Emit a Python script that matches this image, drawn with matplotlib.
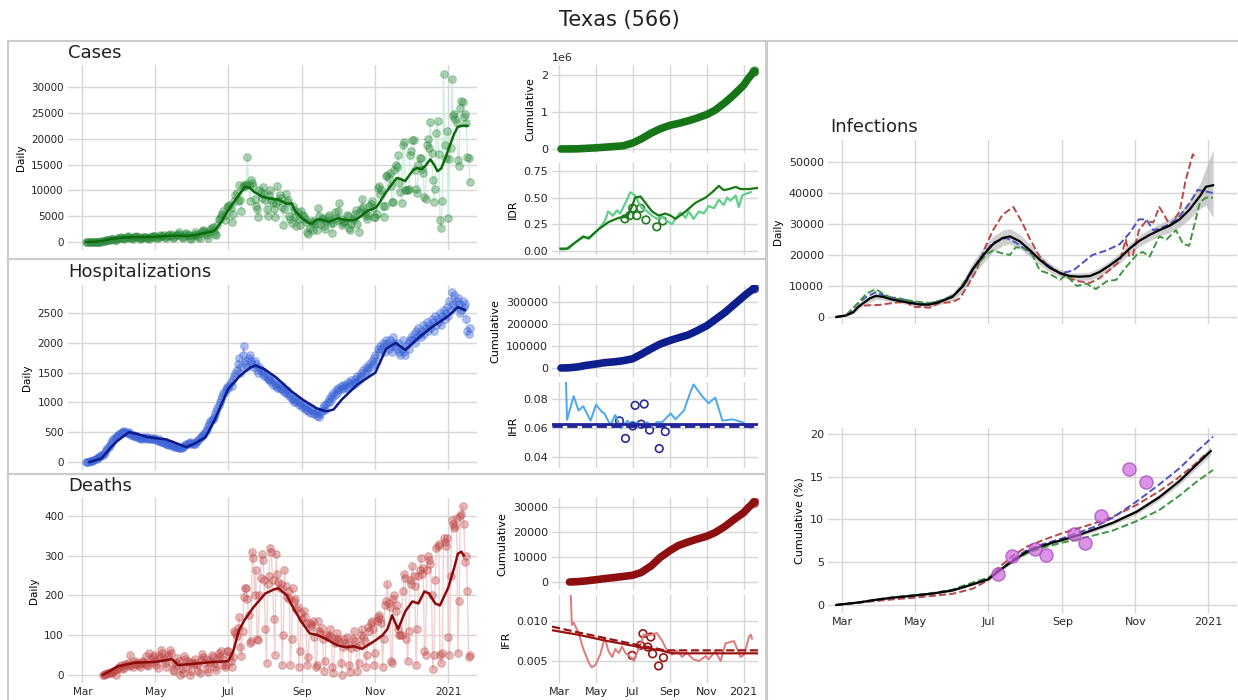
import numpy as np
import pandas as pd
import matplotlib
matplotlib.use("Agg")
import matplotlib.pyplot as plt
import matplotlib.dates as mdates
from matplotlib.patches import Rectangle
from matplotlib.ticker import FuncFormatter, FormatStrFormatter

# ---------------------------------------------------------------------------
# Data
# day offsets are counted from 2020-03-01
# ---------------------------------------------------------------------------
BASE = "2020-03-01"

# daily reported cases, one value per day from 2020-03-04 (rows = weeks)
cases_daily = [
    0, 2, 3, 5, 8, 10, 15,
    20, 30, 40, 55, 60, 80, 100,
    150, 180, 250, 300, 330, 350, 450,
    520, 600, 550, 480, 450, 650, 700,
    800, 900, 750, 700, 600, 850, 950,
    1100, 900, 800, 700, 650, 900, 1000,
    1200, 1000, 900, 600, 700, 800, 950,
    1000, 900, 800, 700, 600, 900, 1100,
    1000, 1200, 1100, 800, 700, 1000, 1300,
    1100, 1200, 1300, 900, 800, 1100, 1300,
    1500, 1200, 1400, 800, 900, 1300, 1400,
    1600, 1900, 1300, 1000, 800, 1200, 1500,
    1700, 1300, 1400, 800, 600, 1100, 1400,
    1900, 1500, 1300, 900, 700, 1700, 2100,
    2300, 2100, 1800, 1400, 800, 1900, 2600,
    2700, 2900, 2100, 1600, 1300, 3200, 4400,
    4400, 5000, 5500, 6000, 4300, 5200, 6700,
    6900, 7100, 6600, 3800, 5500, 7900, 9000,
    9500, 8000, 11000, 8200, 6000, 10600, 11100,
    10900, 11200, 16500, 11000, 8000, 12000, 11500,
    10800, 8400, 6900, 6300, 4800, 10000, 9700,
    8500, 10700, 9300, 8200, 6300, 5100, 9000,
    10100, 8200, 7600, 6400, 4900, 7600, 10800,
    8000, 9000, 8500, 6700, 3200, 6400, 9200,
    7800, 8200, 5100, 4500, 3600, 7000, 6100,
    4800, 3000, 5900, 4500, 3300, 6000, 5200,
    5000, 4400, 3900, 2000, 1600, 2700, 4000,
    3600, 2400, 4100, 3600, 2300, 6600, 5000,
    3500, 4700, 4500, 3000, 2500, 4000, 4800,
    5200, 4300, 3600, 1800, 3700, 5800, 4600,
    4200, 6000, 7500, 4400, 3200, 3600, 3900,
    4000, 5300, 5100, 2700, 2400, 3500, 4200,
    4600, 5500, 6100, 3400, 2000, 5800, 6400,
    8400, 6700, 5900, 5100, 4400, 5300, 7000,
    7300, 7900, 6600, 4900, 4800, 5400, 10400,
    10800, 9300, 10000, 7000, 4900, 6900, 12800,
    13000, 12400, 13300, 10800, 7700, 7800, 13900,
    15000, 14500, 16800, 11500, 9700, 7600, 18800,
    19300, 10000, 10100, 10000, 10200, 16800, 17600,
    19700, 19800, 14000, 10200, 9500, 15000, 16200,
    16300, 14100, 13400, 8700, 8300, 18800, 19900,
    18200, 23300, 17300, 12000, 7800, 10300, 21100,
    23400, 17100, 4300, 2700, 8000, 32600, 18800,
    16200, 21500, 4600, 16100, 18200, 31500, 24300,
    24800, 23800, 23000, 15900, 14800, 26000, 27300,
    27100, 24200, 24700, 23100, 16400, 16300, 11700,
]
cases_smooth_days = [3, 10, 17, 24, 31, 38, 45, 52, 59, 66, 73, 80, 87, 94, 101,
                     108, 111, 115, 119, 122, 129, 136, 140, 143, 150, 157, 164,
                     171, 175, 178, 182, 185, 189, 192, 196, 199, 203, 206, 210,
                     214, 217, 221, 225, 228, 232, 235, 239, 243, 246, 249, 253,
                     256, 260, 263, 266, 270, 273, 277, 280, 284, 287, 291, 294,
                     297, 300, 304, 307, 311, 314, 318, 322]
cases_smooth = [10, 50, 200, 600, 800, 900, 950, 950, 1000, 1100, 1200, 1250,
                1200, 1300, 1700, 2000, 2300, 3500, 5000, 6200, 8500, 10700,
                10500, 9800, 8800, 8400, 8200, 7400, 7500, 6000, 5000, 4400,
                3700, 3600, 4300, 4400, 4100, 3900, 4300, 4600, 4400, 4200,
                4200, 4300, 4800, 5400, 6100, 6400, 6800, 7800, 9300, 10300,
                11500, 12400, 12200, 11800, 12800, 14000, 14300, 14100, 14800,
                16000, 15000, 13700, 14200, 16500, 18500, 21000, 22300, 22500,
                22500]
cases_cum_days = [3, 17, 31, 45, 61, 75, 92, 106, 122, 136, 153, 167, 184, 198,
                  214, 228, 245, 259, 275, 289, 306, 315, 324]
cases_cum = [0, 100, 4000, 16000, 30000, 46000, 66000, 85000, 160000, 270000,
             430000, 540000, 640000, 690000, 760000, 830000, 930000, 1050000,
             1250000, 1450000, 1720000, 1930000, 2100000]
idr_model_days = [2, 13, 27, 40, 49, 65, 82, 99, 113, 121, 126, 135, 143, 154,
                  165, 176, 185, 193, 210, 226, 243, 254, 265, 273, 282, 293,
                  301, 315, 329]
idr_model = [0.02, 0.02, 0.08, 0.13, 0.12, 0.20, 0.27, 0.31, 0.32, 0.42, 0.50,
             0.51, 0.45, 0.37, 0.33, 0.35, 0.33, 0.30, 0.37, 0.45, 0.50, 0.55,
             0.61, 0.57, 0.58, 0.60, 0.58, 0.58, 0.59]
idr_obs_days = [4, 16, 27, 40, 49, 65, 76, 81, 89, 96, 101, 110, 118, 126, 132,
                137, 146, 154, 162, 171, 179, 187, 193, 201, 210, 215, 223, 232,
                240, 248, 257, 265, 273, 279, 284, 293, 298, 304, 312, 318]
idr_obs = [0.01, 0.02, 0.08, 0.14, 0.11, 0.20, 0.28, 0.37, 0.33, 0.38, 0.35,
           0.45, 0.55, 0.52, 0.45, 0.40, 0.37, 0.33, 0.30, 0.32, 0.28, 0.25,
           0.30, 0.36, 0.31, 0.37, 0.30, 0.37, 0.35, 0.42, 0.40, 0.48, 0.43,
           0.50, 0.47, 0.52, 0.41, 0.52, 0.54, 0.55]
idr_sero_days = [109, 117, 122, 129, 135, 144, 162, 172]
idr_sero = [0.30, 0.33, 0.40, 0.33, 0.40, 0.29, 0.225, 0.28]

# hospitalizations, one value per day from 2020-03-04
hosp_daily = [
    0, 0, 5, 10, 15, 20, 30,
    40, 50, 60, 70, 80, 95, 110,
    120, 140, 170, 200, 230, 260, 290,
    320, 350, 380, 400, 420, 440, 460,
    470, 480, 500, 510, 520, 500, 490,
    480, 500, 470, 460, 440, 450, 430,
    420, 440, 410, 400, 390, 410, 420,
    400, 390, 420, 410, 380, 400, 390,
    380, 400, 390, 370, 360, 380, 350,
    340, 330, 320, 330, 310, 300, 290,
    290, 300, 280, 270, 260, 250, 260,
    250, 240, 230, 240, 260, 270, 290,
    300, 310, 320, 330, 310, 320, 300,
    310, 330, 350, 370, 400, 420, 440,
    450, 480, 520, 560, 600, 640, 680,
    700, 730, 760, 800, 850, 900, 950,
    1000, 1050, 1100, 1150, 1180, 1220, 1260,
    1250, 1300, 1350, 1280, 1400, 1450, 1500,
    1550, 1650, 1750, 1500, 1600, 1800, 1950,
    1650, 1700, 1600, 1750, 1800, 1700, 1650,
    1600, 1700, 1650, 1550, 1500, 1600, 1550,
    1520, 1480, 1450, 1500, 1420, 1400, 1380,
    1400, 1350, 1300, 1380, 1320, 1280, 1250,
    1300, 1250, 1220, 1280, 1200, 1180, 1150,
    1200, 1150, 1100, 1130, 1060, 1050, 1000,
    1050, 1000, 1020, 950, 1000, 980, 920,
    950, 900, 880, 930, 850, 820, 900,
    880, 830, 800, 850, 780, 820, 760,
    800, 850, 900, 950, 870, 980, 1000,
    1050, 1000, 1100, 1080, 1150, 1120, 1200,
    1150, 1250, 1200, 1280, 1230, 1300, 1250,
    1300, 1250, 1350, 1280, 1320, 1380, 1300,
    1350, 1400, 1320, 1450, 1380, 1420, 1500,
    1450, 1550, 1500, 1600, 1520, 1580, 1650,
    1600, 1700, 1650, 1750, 1800, 1700, 1900,
    1850, 1950, 1900, 2000, 1950, 1850, 2050,
    2000, 1900, 2050, 1950, 1850, 2100, 2000,
    1950, 1900, 2000, 1850, 1800, 1900, 2050,
    1850, 1800, 1950, 2000, 1900, 2050, 2100,
    2050, 2150, 2000, 2200, 2100, 2250, 2150,
    2100, 2200, 2300, 2150, 2250, 2350, 2200,
    2300, 2250, 2400, 2350, 2200, 2450, 2300,
    2400, 2350, 2500, 2300, 2450, 2550, 2400,
    2500, 2600, 2450, 2700, 2550, 2850, 2650,
    2800, 2600, 2700, 2750, 2650, 2500, 2550,
    2700, 2600, 2650, 2400, 2200, 2150, 2250,
]
hosp_smooth_days = [6, 16, 24, 29, 39, 46, 54, 61, 70, 78, 87, 95, 103, 111, 122,
                    132, 140, 145, 152, 162, 174, 184, 196, 204, 210, 217, 230,
                    245, 254, 262, 270, 282, 292, 306, 314, 320]
hosp_smooth = [0, 60, 250, 350, 500, 470, 420, 400, 380, 320, 250, 320, 420, 720,
               1230, 1450, 1580, 1620, 1560, 1420, 1200, 1050, 900, 850, 880,
               1050, 1300, 1500, 1900, 2000, 1880, 2100, 2260, 2450, 2600, 2550]
hosp_cum_days = [3, 17, 31, 45, 61, 75, 92, 106, 122, 136, 153, 167, 184, 198,
                 214, 228, 245, 259, 275, 289, 306, 315, 324]
hosp_cum = [0, 1000, 5000, 12000, 18000, 24000, 28000, 33000, 42000, 62000,
            88000, 108000, 125000, 137000, 150000, 168000, 192000, 220000,
            252000, 285000, 325000, 345000, 362000]
ihr_obs_days = [11, 13, 24, 32, 40, 52, 61, 71, 75, 85, 93, 103, 113, 121, 129,
                137, 146, 154, 162, 171, 185, 193, 207, 218, 223, 237, 248, 259,
                271, 287, 304, 318]
ihr_obs = [0.095, 0.0656, 0.082, 0.072, 0.075, 0.065, 0.076, 0.071, 0.070,
           0.062, 0.069, 0.060, 0.065, 0.062, 0.064, 0.061, 0.064, 0.061,
           0.064, 0.064, 0.070, 0.066, 0.072, 0.085, 0.090, 0.082, 0.077,
           0.081, 0.065, 0.066, 0.064, 0.060]
ihr_model = 0.0624
ihr_prior = 0.0613
ihr_sero_days = [100, 110, 122, 126, 136, 141, 150, 166, 176]
ihr_sero = [0.0649, 0.0528, 0.0614, 0.0756, 0.0626, 0.0765, 0.0586, 0.0458, 0.0575]

# deaths, one value per day from 2020-03-18
deaths_daily = [
    0, 1, 2, 3, 5, 5, 6,
    8, 5, 10, 12, 0, 14, 18,
    20, 25, 15, 22, 18, 28, 25,
    30, 22, 50, 26, 20, 35, 27,
    33, 28, 25, 20, 30, 36, 32,
    28, 48, 25, 22, 55, 40, 30,
    45, 50, 35, 25, 18, 48, 42,
    62, 55, 40, 30, 20, 45, 50,
    62, 55, 30, 12, 10, 30, 42,
    25, 35, 0, 15, 5, 48, 40,
    20, 35, 30, 0, 10, 32, 28,
    40, 30, 25, 10, 5, 38, 52,
    45, 30, 40, 15, 8, 35, 30,
    50, 45, 30, 20, 12, 40, 55,
    48, 60, 40, 25, 20, 25, 60,
    60, 48, 35, 20, 45, 110, 105,
    98, 118, 145, 70, 48, 110, 195,
    220, 220, 190, 150, 80, 85, 310,
    295, 200, 265, 90, 88, 200, 245,
    305, 290, 240, 115, 30, 230, 250,
    320, 310, 240, 140, 50, 305, 255,
    235, 220, 230, 25, 100, 265, 225,
    195, 210, 190, 25, 90, 220, 185,
    190, 165, 170, 20, 60, 155, 140,
    160, 145, 130, 25, 45, 130, 125,
    120, 135, 95, 20, 25, 135, 110,
    105, 118, 90, 10, 35, 100, 95,
    100, 115, 95, 20, 5, 80, 90,
    105, 90, 85, 30, 0, 70, 90,
    80, 95, 75, 25, 8, 68, 90,
    110, 85, 70, 10, 30, 75, 100,
    115, 95, 85, 20, 50, 120, 110,
    130, 135, 115, 25, 55, 135, 145,
    150, 140, 130, 20, 90, 175, 185,
    230, 180, 170, 35, 30, 190, 200,
    160, 175, 115, 100, 100, 100, 210,
    255, 245, 90, 35, 110, 240, 230,
    275, 250, 225, 25, 115, 250, 265,
    295, 255, 270, 60, 50, 265, 300,
    290, 280, 200, 15, 50, 240, 320,
    325, 330, 50, 30, 55, 345, 335,
    325, 345, 95, 50, 250, 390, 380,
    370, 375, 395, 55, 185, 400, 405,
    425, 380, 285, 300, 210, 45, 50,
]
deaths_smooth_days = [17, 30, 44, 61, 75, 80, 92, 106, 122, 126, 131, 136, 143,
                      153, 160, 164, 171, 177, 183, 190, 197, 204, 213, 220,
                      227, 234, 244, 251, 255, 259, 264, 270, 276, 281, 286,
                      290, 295, 299, 306, 311, 314, 317, 319]
deaths_smooth = [0, 22, 31, 33, 40, 25, 28, 32, 35, 58, 113, 140, 170, 205,
                 215, 218, 200, 165, 135, 105, 100, 90, 75, 70, 72, 66, 85, 100,
                 115, 150, 115, 160, 185, 180, 210, 205, 180, 175, 220, 270,
                 305, 310, 300]
deaths_cum_days = [17, 31, 45, 61, 75, 92, 106, 122, 136, 153, 167, 184, 198,
                   214, 228, 245, 259, 275, 289, 306, 315, 324]
deaths_cum = [0, 150, 450, 900, 1350, 1800, 2200, 2700, 3800, 6500, 9700,
              12600, 14600, 16000, 17100, 18300, 19800, 22200, 24800, 27700,
              30000, 32000]
ifr_obs_days = [19, 21, 24, 32, 40, 49, 54, 60, 68, 74, 76, 82, 88, 93, 99, 104,
                110, 118, 124, 129, 135, 140, 149, 162, 171, 179, 187, 196, 204,
                212, 223, 232, 243, 248, 259, 268, 276, 290, 301, 307, 315, 318,
                320]
ifr_obs = [0.0135, 0.0095, 0.0098, 0.0085, 0.0065, 0.0048, 0.0042, 0.0045,
           0.0058, 0.0075, 0.0078, 0.0062, 0.0055, 0.0065, 0.0060, 0.0068,
           0.0060, 0.0055, 0.0050, 0.0060, 0.0070, 0.0083, 0.0082, 0.0085,
           0.0075, 0.0063, 0.0058, 0.0063, 0.0055, 0.0060, 0.0052, 0.0050,
           0.0056, 0.0052, 0.0062, 0.0050, 0.0072, 0.0075, 0.0055, 0.0058,
           0.0080, 0.0083, 0.0078]
ifr_model_days = [-12, 30, 80, 130, 170, 180, 190, 330]
ifr_model = [0.00885, 0.0083, 0.0075, 0.0068, 0.0063, 0.0061, 0.00596, 0.00596]
ifr_prior_days = [-12, 30, 80, 130, 165, 175, 330]
ifr_prior = [0.0093, 0.0086, 0.0078, 0.0070, 0.0065, 0.00633, 0.00633]
ifr_sero_days = [139, 152, 135, 147, 121, 155, 165, 173]
ifr_sero = [0.00842, 0.0080, 0.00696, 0.00675, 0.0057, 0.0059, 0.00438, 0.00542]

# estimated infections
inf_days = [-5, 3, 9, 14, 23, 28, 34, 42, 53, 65, 73, 81, 92, 101, 109, 118,
            126, 134, 140, 148, 157, 165, 173, 182, 190, 198, 207, 215, 223,
            232, 240, 248, 257, 265, 274, 282, 290, 299, 304, 310]
inf_mean = [0, 500, 1500, 3500, 6000, 6800, 6500, 5600, 4800, 4000, 4000, 4800,
            6500, 10000, 15500, 20000, 23500, 25500, 26000, 24500, 21500, 18500,
            16000, 14200, 13200, 13000, 13200, 14500, 16500, 19000, 22000,
            24500, 26500, 28000, 29500, 31500, 34500, 39000, 42000, 42500]
inf_lo = [0, 200, 1000, 2700, 4800, 5600, 5500, 4800, 4100, 3400, 3300, 3900,
          5300, 8200, 13300, 17500, 21000, 23000, 23500, 22200, 19500, 16800,
          14600, 13000, 12100, 11800, 11900, 13100, 15000, 17400, 20300, 22700,
          24600, 26000, 27300, 29000, 31500, 35000, 36000, 32000]
inf_hi = [0, 800, 2000, 4300, 7200, 8000, 7500, 6400, 5500, 4600, 4700, 5700,
          7700, 11800, 17700, 22500, 26000, 28000, 28500, 26800, 23500, 20200,
          17400, 15400, 14300, 14200, 14500, 15900, 18000, 20600, 23700, 26300,
          28400, 30000, 31700, 34000, 37500, 43000, 48000, 54000]
inf_red_days = [-5, 3, 9, 14, 23, 31, 42, 53, 59, 65, 73, 81, 92, 98, 104, 112,
                120, 126, 134, 143, 151, 157, 165, 173, 182, 190, 198, 207, 215,
                223, 232, 237, 240, 243, 248, 254, 260, 265, 269, 274, 282, 287,
                293, 296]
inf_red = [0, 500, 2000, 3500, 3800, 3900, 4500, 5000, 3300, 3200, 3000, 4500,
           4800, 6000, 9500, 15000, 23000, 28000, 33000, 35500, 30000, 25000,
           19500, 16000, 14000, 12500, 11500, 11000, 12500, 15000, 18000, 25000,
           19500, 20000, 28000, 31000, 30500, 35500, 33000, 29500, 34000, 44000,
           52500, 51000]
inf_blue_days = [-5, 3, 12, 20, 28, 37, 48, 59, 70, 81, 92, 104, 115, 126, 137,
                 145, 154, 165, 173, 182, 193, 201, 209, 221, 232, 240, 248, 254,
                 260, 265, 274, 282, 290, 297, 304, 310]
inf_blue = [0, 500, 4000, 6500, 8000, 6500, 6000, 4800, 4200, 5000, 6500, 11500,
            19000, 24000, 25500, 24000, 21500, 18500, 16500, 14000, 15000, 17500,
            20000, 21500, 23500, 27000, 31500, 31500, 28000, 28500, 30000, 32500,
            36500, 41000, 40500, 40000]
inf_green_days = [-5, 3, 12, 20, 28, 34, 42, 53, 65, 73, 84, 95, 104, 112, 120,
                  126, 134, 140, 145, 154, 159, 165, 173, 182, 187, 196, 204,
                  212, 221, 229, 237, 246, 251, 257, 265, 271, 279, 285, 290,
                  299, 304, 310]
inf_green = [0, 500, 4000, 7500, 9000, 7500, 6000, 5500, 4800, 4500, 5500, 7500,
             12500, 16500, 20000, 21500, 20500, 20000, 22500, 22000, 20000,
             15000, 14000, 12000, 13500, 10000, 10800, 9000, 11500, 12000, 16000,
             20000, 21000, 19500, 26000, 25000, 28000, 23500, 23000, 37000,
             38500, 38500]

# cumulative infections (% of population)
cum_days = [-5, 14, 28, 42, 60, 76, 92, 104, 122, 131, 143, 154, 165, 176, 184,
            198, 212, 226, 246, 265, 282, 296, 308]
cum_mean = [0, 0.3, 0.6, 0.85, 1.1, 1.35, 1.7, 2.2, 3.0, 4.0, 5.2, 6.2, 6.8,
            7.3, 7.6, 8.2, 8.9, 9.6, 10.9, 12.6, 14.5, 16.4, 18.0]
cum_lo = [0, 0.25, 0.5, 0.75, 1.0, 1.2, 1.55, 2.05, 2.85, 3.8, 5.0, 6.0, 6.6,
          7.1, 7.4, 8.0, 8.65, 9.35, 10.6, 12.25, 14.1, 15.95, 17.5]
cum_hi = [0, 0.35, 0.7, 0.95, 1.2, 1.5, 1.85, 2.35, 3.15, 4.2, 5.4, 6.4, 7.0,
          7.5, 7.8, 8.4, 9.15, 9.85, 11.2, 12.95, 14.9, 16.85, 18.5]
cum_red_days = [-5, 42, 60, 92, 109, 122, 131, 143, 154, 168, 184, 198, 212,
                226, 246, 265, 282, 296, 304]
cum_red = [0, 0.65, 0.85, 1.3, 1.9, 2.9, 4.4, 5.8, 6.8, 7.6, 8.4, 9.0, 9.6, 10.3,
           11.7, 13.3, 15.0, 16.6, 17.7]
cum_blue_days = [-5, 14, 28, 42, 60, 76, 92, 104, 122, 131, 143, 154, 165, 184,
                 198, 212, 226, 246, 265, 282, 296, 310]
cum_blue = [0, 0.3, 0.6, 0.85, 1.1, 1.35, 1.7, 2.2, 3.0, 4.0, 5.4, 6.4, 7.0, 7.8,
            8.5, 9.2, 10.2, 12.1, 14.1, 16.0, 17.9, 19.7]
cum_green_days = cum_blue_days
cum_green = [0, 0.3, 0.65, 0.9, 1.15, 1.4, 1.8, 2.4, 3.2, 4.1, 5.2, 6.0, 6.6,
             7.3, 7.7, 8.2, 8.7, 9.8, 11.1, 12.8, 14.4, 15.8]
sero_days = [130, 142, 161, 170, 194, 203, 216, 240, 254]
sero_pct = [3.66, 5.76, 6.5, 5.9, 8.3, 7.2, 10.4, 15.9, 14.4]

# ---------------------------------------------------------------------------
# helpers
# ---------------------------------------------------------------------------
W, H = 1238, 700
XMIN = np.datetime64(BASE) - np.timedelta64(12, "D")
XMAX = np.datetime64(BASE) + np.timedelta64(330, "D")


def to_dates(days):
    return np.datetime64(BASE) + np.array(days, dtype="timedelta64[D]")


def month_label(x, pos=None):
    d = mdates.num2date(x)
    return str(d.year) if d.month == 1 else d.strftime("%b")


plt.rcParams["font.family"] = "DejaVu Sans"
fig = plt.figure(figsize=(W / 100, H / 100), dpi=100)


def add_ax(left, top, right, bottom):
    return fig.add_axes([left / W, 1 - bottom / H, (right - left) / W, (bottom - top) / H])


def style(ax, show_x=False, fs=7.5):
    for s in ax.spines.values():
        s.set_visible(False)
    ax.grid(True, color="#d6d6d6", lw=1)
    ax.set_axisbelow(True)
    ax.tick_params(length=0, labelsize=fs, colors="#262626", pad=3)
    ax.set_xlim(XMIN, XMAX)
    ax.xaxis.set_major_locator(mdates.MonthLocator(bymonth=[1, 3, 5, 7, 9, 11]))
    ax.xaxis.set_major_formatter(FuncFormatter(month_label))
    if not show_x:
        ax.tick_params(labelbottom=False)


def daily_panel(ax, start, values, sdays, svalues, c, light, dark):
    d = pd.date_range(start, periods=len(values))
    ax.plot(d, values, color=light, lw=1, zorder=1)
    ax.scatter(d, values, s=30, color=c, alpha=0.38, edgecolor=c, lw=0.8, zorder=2)
    ax.plot(to_dates(sdays), svalues, color=dark, lw=1.8, zorder=3)
    ax.set_ylabel("Daily", fontsize=7.5)


def cum_panel(ax, days, values, c):
    d = to_dates(days)
    ax.plot(d, values, color=c, lw=5.5, solid_capstyle="round", zorder=2)
    ax.scatter(d[-1:], values[-1:], s=40, color=c, alpha=0.6, zorder=3)
    ax.set_ylabel("Cumulative", fontsize=8)


# ---------------------------------------------------------------------------
# frames and titles
# ---------------------------------------------------------------------------
for (x0, y0, x1, y1) in [(8, 41, 766, 259), (8, 259, 766, 474), (8, 474, 766, 712),
                         (767, 41, 1245, 712)]:
    fig.add_artist(Rectangle((x0 / W, 1 - y1 / H), (x1 - x0) / W, (y1 - y0) / H,
                             transform=fig.transFigure, fill=False,
                             ec="#cccccc", lw=1.5))

fig.text(0.5, 1 - 20 / H, "Texas (566)", ha="center", va="center", fontsize=15, color="#222222")
for txt, x, y in [("Cases", 68, 53), ("Hospitalizations", 68, 272),
                  ("Deaths", 68, 486), ("Infections", 830, 127)]:
    fig.text(x / W, 1 - y / H, txt, ha="left", va="center", fontsize=13, color="#222222")

# ---------------------------------------------------------------------------
# Cases
# ---------------------------------------------------------------------------
ax = add_ax(68, 65, 477, 250)
style(ax)
daily_panel(ax, "2020-03-04", cases_daily, cases_smooth_days, cases_smooth,
            "#2e8b3e", "#cfeedd", "#0b6b0b")
ax.set_ylim(-1550, 34260)
ax.set_yticks(range(0, 30001, 5000))

ax = add_ax(552, 65, 758, 153)
style(ax, fs=8)
cum_panel(ax, cases_cum_days, cases_cum, "#167516")
ax.set_ylim(-0.11e6, 2.27e6)
ax.set_yticks([0, 1e6, 2e6])
ax.yaxis.get_offset_text().set_fontsize(8)

ax = add_ax(552, 163, 758, 255)
style(ax, fs=8)
ax.plot(to_dates(idr_obs_days), idr_obs, color="#5fcf8a", lw=1.6)
ax.plot(to_dates(idr_model_days), idr_model, color="#157a15", lw=1.6)
ax.scatter(to_dates(idr_sero_days), idr_sero, s=30, facecolor="none", edgecolor="#1f7a1f", lw=1.2)
ax.set_ylim(-0.04, 0.825)
ax.set_yticks([0, 0.25, 0.5, 0.75])
ax.yaxis.set_major_formatter(FormatStrFormatter("%.2f"))
ax.set_ylabel("IDR", fontsize=8)

# ---------------------------------------------------------------------------
# Hospitalizations
# ---------------------------------------------------------------------------
ax = add_ax(68, 285, 477, 470)
style(ax)
daily_panel(ax, "2020-03-04", hosp_daily, hosp_smooth_days, hosp_smooth,
            "#3a64d8", "#c8d4f4", "#0a1a8a")
ax.set_ylim(-134, 2970)
ax.set_yticks(range(0, 2501, 500))

ax = add_ax(552, 285, 758, 377)
style(ax, fs=8)
cum_panel(ax, hosp_cum_days, hosp_cum, "#0d1f8c")
ax.set_ylim(-41000, 377000)
ax.set_yticks([0, 100000, 200000, 300000])

ax = add_ax(552, 382, 758, 468)
style(ax, fs=8)
ax.plot(to_dates(ihr_obs_days), ihr_obs, color="#4aa8f0", lw=1.4)
ax.axhline(ihr_model, color="#23239a", lw=2)
ax.axhline(ihr_prior, color="#23239a", lw=2, ls="--")
ax.scatter(to_dates(ihr_sero_days), ihr_sero, s=30, facecolor="none", edgecolor="#2b2b9a", lw=1.2)
ax.set_ylim(0.0324, 0.0917)
ax.set_yticks([0.04, 0.06, 0.08])
ax.yaxis.set_major_formatter(FormatStrFormatter("%.2f"))
ax.set_ylabel("IHR", fontsize=8)

# ---------------------------------------------------------------------------
# Deaths
# ---------------------------------------------------------------------------
ax = add_ax(68, 498, 477, 683)
style(ax, show_x=True)
daily_panel(ax, "2020-03-18", deaths_daily, deaths_smooth_days, deaths_smooth,
            "#c04848", "#f2d0d0", "#8b0a0a")
ax.set_ylim(-20, 445)
ax.set_yticks(range(0, 401, 100))

ax = add_ax(552, 498, 758, 590)
style(ax, fs=8)
cum_panel(ax, deaths_cum_days, deaths_cum, "#8e0f0f")
ax.set_ylim(-3200, 33600)
ax.set_yticks([0, 10000, 20000, 30000])

ax = add_ax(552, 595, 758, 683)
style(ax, show_x=True, fs=8)
ax.plot(to_dates(ifr_obs_days), ifr_obs, color="#e07a7a", lw=1.4)
ax.plot(to_dates(ifr_model_days), ifr_model, color="#9a1414", lw=1.6)
ax.plot(to_dates(ifr_prior_days), ifr_prior, color="#9a1414", lw=1.6, ls="--")
ax.scatter(to_dates(ifr_sero_days), ifr_sero, s=30, facecolor="none", edgecolor="#9a1414", lw=1.2)
ax.set_ylim(0.00225, 0.01325)
ax.set_yticks([0.005, 0.010])
ax.yaxis.set_major_formatter(FormatStrFormatter("%.3f"))
ax.set_ylabel("IFR", fontsize=8)

# ---------------------------------------------------------------------------
# Infections
# ---------------------------------------------------------------------------
ax = add_ax(828, 140, 1237, 324)
style(ax, fs=8)
ax.fill_between(to_dates(inf_days), inf_lo, inf_hi, color="#b0b0b0", alpha=0.6, lw=0)
ax.plot(to_dates(inf_red_days), inf_red, color="#b84848", lw=1.4, ls="--")
ax.plot(to_dates(inf_blue_days), inf_blue, color="#5050c0", lw=1.4, ls="--")
ax.plot(to_dates(inf_green_days), inf_green, color="#3f963f", lw=1.4, ls="--")
ax.plot(to_dates(inf_days), inf_mean, color="black", lw=1.6)
ax.set_ylim(-2260, 57100)
ax.set_yticks(range(0, 50001, 10000))
ax.set_ylabel("Daily", fontsize=7.5)

ax = add_ax(828, 428, 1237, 613)
style(ax, show_x=True, fs=8)
ax.fill_between(to_dates(cum_days), cum_lo, cum_hi, color="#b0b0b0", alpha=0.6, lw=0)
ax.plot(to_dates(cum_red_days), cum_red, color="#b84848", lw=1.4, ls="--")
ax.plot(to_dates(cum_blue_days), cum_blue, color="#5050c0", lw=1.4, ls="--")
ax.plot(to_dates(cum_green_days), cum_green, color="#3f963f", lw=1.4, ls="--")
ax.plot(to_dates(cum_days), cum_mean, color="black", lw=1.6)
ax.scatter(to_dates(sero_days), sero_pct, s=90, color="#cc66dd", alpha=0.7,
           edgecolor="#a040b8", lw=1, zorder=4)
ax.set_ylim(-0.94, 20.7)
ax.set_yticks(range(0, 21, 5))
ax.set_ylabel("Cumulative (%)", fontsize=8)

fig.savefig("out.png", dpi=100)
